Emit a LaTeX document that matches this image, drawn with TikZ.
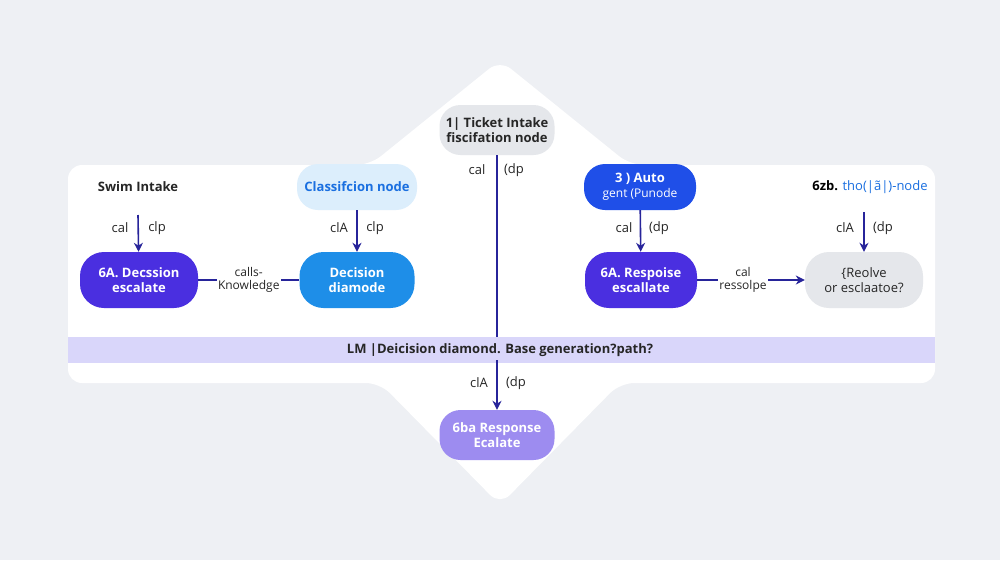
\documentclass[tikz,border=0pt]{standalone}
\usepackage{fontspec}
\setmainfont{Open Sans}
\usetikzlibrary{positioning,arrows.meta}
\definecolor{bgcol}{HTML}{EEF0F4}
\definecolor{linecol}{HTML}{27249A}
\definecolor{bandcol}{HTML}{D9D6FA}
\definecolor{greycol}{HTML}{E5E7EB}
\definecolor{palecol}{HTML}{DCEEFC}
\definecolor{autocol}{HTML}{1F4FE8}
\definecolor{violcol}{HTML}{4A2FE0}
\definecolor{skycol}{HTML}{1E8EE8}
\definecolor{lilaccol}{HTML}{9D8CF0}
\definecolor{textblue}{HTML}{1A6FE0}
\tikzset{
  pill/.style={rounded corners=24pt, minimum width=115pt, minimum height=56pt,
    align=center, font=\fontsize{13}{15}\selectfont\bfseries, text=white},
  smallpill/.style={pill, minimum height=46pt, rounded corners=21pt},
  flow/.style={draw=linecol, line width=1.6pt, -{Stealth[length=9pt,width=9pt]}},
  plain/.style={draw=linecol, line width=1.6pt},
  lbl/.style={font=\fontsize{13}{14}\selectfont, text=black!85},
}
\begin{document}
\begin{tikzpicture}[x=1pt,y=-1pt]
\useasboundingbox (0,0) rectangle (1000,560);
\fill[bgcol] (0,0) rectangle (1000,560);
% white frame
\fill[white, rounded corners=14pt] (500,60) -- (630,165) -- (935,165) -- (935,383)
  -- (620,383) -- (500,505) -- (380,383) -- (68,383) -- (68,165) -- (370,165) -- cycle;
\fill[bandcol] (68,337) rectangle (935,363);
\node[font=\fontsize{13}{15}\selectfont\bfseries, text=black!85] (band) at (500,350)
  {LM |Deicision diamond. Base generation?path?};

% top row
\node[smallpill, fill=greycol, text=black!85, minimum height=50pt] (ticket) at (497,130)
  {1| Ticket Intake\\fiscifation node};
\node[font=\fontsize{13}{15}\selectfont\bfseries, text=black!85] (swim) at (138,187) {Swim Intake};
\node[smallpill, fill=palecol, text=textblue, minimum width=120pt] (classif) at (357,187) {Classifcion node};
\node[smallpill, fill=autocol, minimum width=112pt] (auto) at (640,187)
  {3 ) Auto\\{\mdseries\fontsize{12}{14}\selectfont gent (Punode}};
\node[font=\fontsize{13}{15}\selectfont\bfseries] (thol) at (870,187)
  {6zb. \textcolor{textblue}{\mdseries tho(|ã|)-node}};

% middle row
\node[pill, fill=violcol, minimum width=118pt] (decesc) at (139,280) {6A. Decssion\\escalate};
\node[pill, fill=skycol] (decdia) at (357,280) {Decision\\diamode};
\node[pill, fill=violcol, minimum width=112pt] (resesc) at (641,280) {6A. Respoise\\escallate};
\node[pill, fill=greycol, text=black!85, minimum width=118pt, font=\fontsize{13}{15}\selectfont] (resolve) at (864,280)
  {\{Reolve\\or esclaatoe?};

% bottom
\node[smallpill, fill=lilaccol, minimum height=50pt] (bottom) at (497,435) {6ba Response\\Ecalate};

% connectors
\coordinate (tick) at (497,337);
\coordinate (swimA) at (138,215);
\draw[plain] (ticket) -- (tick);
\draw[flow] (swimA) -- (decesc);
\draw[flow] (classif) -- (decdia);
\draw[flow] (auto) -- (resesc);
\coordinate (tholA) at (864,212);
\draw[flow] (tholA) -- (resolve);
\draw[flow] (band.south -| bottom) -- (bottom);
\draw[plain] (decesc) -- node[lbl, fill=white, inner sep=1pt, align=center, font=\fontsize{12}{13}\selectfont] {calls-\\Knowledge} (decdia);
\draw[flow] (resesc) -- node[lbl, fill=white, inner sep=1pt, align=center, font=\fontsize{12}{13}\selectfont, xshift=-8pt] {cal\\ressolpe} (resolve);

% side labels
\node[lbl] at (477,170) {cal}; \node[lbl] at (514,170) {(dp};
\node[lbl] at (120,228) {cal}; \node[lbl] at (157,228) {clp};
\node[lbl] at (339,228) {clA}; \node[lbl] at (375,228) {clp};
\node[lbl] at (624,228) {cal}; \node[lbl] at (659,228) {(dp};
\node[lbl] at (845,228) {clA}; \node[lbl] at (883,228) {(dp};
\node[lbl] at (479,383) {clA}; \node[lbl] at (516,383) {(dp};
\end{tikzpicture}
\end{document}
